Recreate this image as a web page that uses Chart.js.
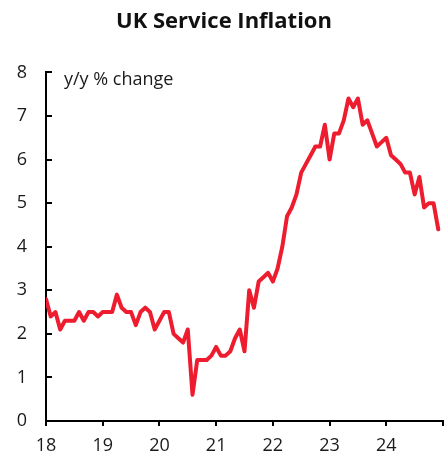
<!DOCTYPE html>
<html>
<head>
<meta charset="utf-8">
<script src="https://cdn.jsdelivr.net/npm/chart.js@4.4.1/dist/chart.umd.min.js"></script>
<style>
  html, body { margin: 0; padding: 0; background: #ffffff; }
  #wrap { width: 448px; height: 454px; }
</style>
</head>
<body>
<div id="wrap"><canvas id="chart" width="448" height="454"></canvas></div>
<script>
// Year tick labels (Jan of each year, 2018-2025); the final tick is left blank
const yearLabels = ['18', '19', '20', '21', '22', '23', '24', ''];
const monthsPerYear = 12;

// UK services CPI, annual rate (%), monthly from Jan 2018 to Dec 2024
const serviceInflation = [
  // 2018
  2.8, 2.4, 2.5, 2.1, 2.3, 2.3, 2.3, 2.5, 2.3, 2.5, 2.5, 2.4,
  // 2019
  2.5, 2.5, 2.5, 2.9, 2.6, 2.5, 2.5, 2.2, 2.5, 2.6, 2.5, 2.1,
  // 2020
  2.3, 2.5, 2.5, 2.0, 1.9, 1.8, 2.1, 0.6, 1.4, 1.4, 1.4, 1.5,
  // 2021
  1.7, 1.5, 1.5, 1.6, 1.9, 2.1, 1.6, 3.0, 2.6, 3.2, 3.3, 3.4,
  // 2022
  3.2, 3.5, 4.0, 4.7, 4.9, 5.2, 5.7, 5.9, 6.1, 6.3, 6.3, 6.8,
  // 2023
  6.0, 6.6, 6.6, 6.9, 7.4, 7.2, 7.4, 6.8, 6.9, 6.6, 6.3, 6.4,
  // 2024
  6.5, 6.1, 6.0, 5.9, 5.7, 5.7, 5.2, 5.6, 4.9, 5.0, 5.0, 4.4
];

const yMin = 0;
const yMax = 8;
const unitLabel = 'y/y % change';
const chartTitle = 'UK Service Inflation';

const FONT = "'Open Sans', 'Noto Sans', sans-serif";
const RED = '#ED1C2E';
const INK = '#1a1a1a';

const points = serviceInflation.map((v, i) => ({ x: i, y: v }));

// Writes the unit caption in the top-left corner of the plot area
const unitCaption = {
  id: 'unitCaption',
  afterDraw(chart) {
    const { ctx, chartArea } = chart;
    ctx.save();
    ctx.font = `18px ${FONT}`;
    ctx.fillStyle = INK;
    ctx.textAlign = 'left';
    ctx.textBaseline = 'alphabetic';
    ctx.fillText(unitLabel, chartArea.left + 18, chartArea.top + 13);
    ctx.restore();
  }
};

new Chart(document.getElementById('chart'), {
  type: 'line',
  data: {
    datasets: [{
      data: points,
      borderColor: RED,
      borderWidth: 4,
      pointRadius: 0,
      tension: 0,
      fill: false,
      borderJoinStyle: 'round',
      borderCapStyle: 'round'
    }]
  },
  options: {
    responsive: false,
    animation: false,
    devicePixelRatio: 1,
    layout: { autoPadding: false, padding: 0 },
    plugins: {
      legend: { display: false },
      tooltip: { enabled: false },
      title: {
        display: true,
        text: chartTitle,
        color: '#111111',
        font: { family: FONT, size: 22, weight: 'bold' },
        padding: { top: 9, bottom: 37 }
      }
    },
    scales: {
      x: {
        type: 'linear',
        min: 0,
        max: yearLabels.length * monthsPerYear - monthsPerYear,
        afterFit(scale) { scale.height = 33; },
        afterBuildTicks(scale) {
          scale.ticks = yearLabels.map((_, i) => ({ value: i * monthsPerYear }));
        },
        border: { display: true, color: '#000000', width: 2 },
        grid: {
          display: true,
          drawOnChartArea: false,
          drawTicks: true,
          tickLength: 5,
          color: '#000000',
          lineWidth: 2
        },
        ticks: {
          autoSkip: false,
          maxRotation: 0,
          padding: 5,
          color: INK,
          font: { family: FONT, size: 18, lineHeight: '30px' },
          callback: (v) => yearLabels[Math.round(v / monthsPerYear)]
        }
      },
      y: {
        min: yMin,
        max: yMax,
        afterFit(scale) { scale.width = 46; },
        border: { display: true, color: '#000000', width: 2 },
        grid: {
          display: true,
          drawOnChartArea: false,
          drawTicks: true,
          tickLength: -6,
          color: '#000000',
          lineWidth: 2
        },
        ticks: {
          stepSize: 1,
          padding: 25,
          color: INK,
          font: { family: FONT, size: 18, lineHeight: '14px' }
        }
      }
    }
  },
  plugins: [unitCaption]
});
</script>
</body>
</html>
